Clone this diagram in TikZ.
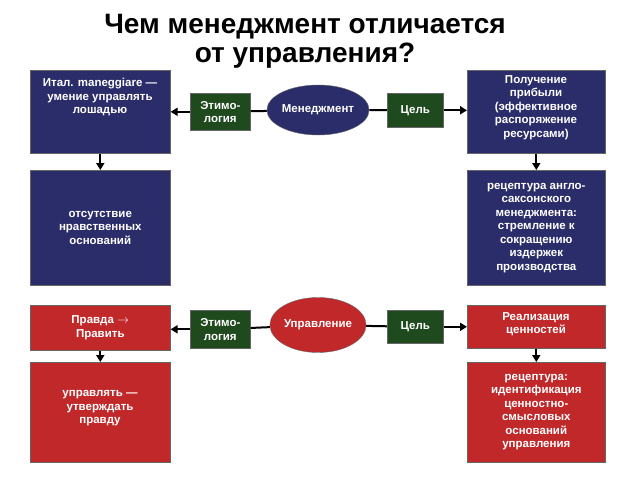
\documentclass[tikz,border=0pt]{standalone}
\usepackage{fontspec}
\setmainfont{Liberation Sans}
\usetikzlibrary{shapes.geometric,arrows.meta}
\definecolor{navy}{HTML}{2B2D6B}
\definecolor{dgreen}{HTML}{1F4A1E}
\definecolor{dred}{HTML}{C0282A}
\tikzset{
 box/.style={draw=black!60,line width=0.6pt,text=white,font=\bfseries\fontsize{11.5}{13.5}\selectfont,align=center,anchor=north west,inner sep=0pt},
 bluebox/.style={box,fill=navy},
 redbox/.style={box,fill=dred},
 gbox/.style={box,fill=dgreen},
 wtext/.style={anchor=north,text=white,font=\bfseries\fontsize{11.5}{13.5}\selectfont,align=center},
 ell/.style={ellipse,draw=black!60,text=white,font=\bfseries\fontsize{11.5}{13.5}\selectfont,inner sep=0pt},
 arr/.style={-{Triangle[length=7pt,width=8pt]},line width=2pt},
 ln/.style={line width=2pt}
}
\begin{document}
\begin{tikzpicture}[x=1pt,y=-1pt]
\useasboundingbox (0,0) rectangle (640,480);
\node[font=\bfseries\fontsize{28}{30}\selectfont] (t1) at (305,27) {Чем менеджмент отличается};
\node[font=\bfseries\fontsize{28}{30}\selectfont] (t2) at (305,56) {от управления?};
% top half
\node[bluebox,minimum width=140pt,minimum height=83pt] (b1) at (30,70) {};
\node[wtext] (b1t) at (100,75) {Итал. maneggiare —\\умение управлять\\лошадью};
\node[bluebox,minimum width=140pt,minimum height=115pt] (b2) at (30,170) {отсутствие\\нравственных\\оснований};
\node[bluebox,minimum width=138pt,minimum height=83pt] (b3) at (467,70) {};
\node[wtext] (b3t) at (536,72) {Получение\\прибыли\\(эффективное\\распоряжение\\ресурсами)};
\node[bluebox,minimum width=138pt,minimum height=115pt] (b4) at (467,170) {рецептура англо-\\саксонского\\менеджмента:\\стремление к\\сокращению\\издержек\\производства};
\node[gbox,minimum width=60pt,minimum height=37pt] (g1) at (190,93) {Этимо-\\логия};
\node[gbox,minimum width=56pt,minimum height=34pt] (g2) at (387,93) {Цель};
\node[ell,fill=navy,minimum width=92pt,minimum height=50pt] (e1) at (318,110) {Менеджмент};
% bottom half
\node[redbox,minimum width=140pt,minimum height=45pt] (r1) at (30,305) {Правда $\rightarrow$\\Править};
\node[redbox,minimum width=140pt,minimum height=100pt] (r2) at (30,362) {};
\node[wtext] (r2t) at (100,387) {управлять —\\утверждать\\правду};
\node[redbox,minimum width=138pt,minimum height=43pt] (r3) at (467,305) {};
\node[wtext] (r3t) at (536,309) {Реализация\\ценностей};
\node[redbox,minimum width=138pt,minimum height=100pt] (r4) at (467,362) {рецептура:\\идентификация\\ценностно-\\смысловых\\оснований\\управления};
\node[gbox,minimum width=60pt,minimum height=38pt] (g3) at (190,310) {Этимо-\\логия};
\node[gbox,minimum width=56pt,minimum height=33pt] (g4) at (387,310) {Цель};
\node[ell,fill=dred,minimum width=95pt,minimum height=55pt] (e2) at (318,325) {Управление};
% connectors
\draw[ln] (e1) -- (g1);
\draw[arr] (g1) -- (b1.east|-g1);
\draw[ln] (e1) -- (g2);
\draw[arr] (g2) -- (b3.west|-g2);
\draw[arr] (b1.south) -- (b2.north);
\draw[arr] (b3.south) -- (b4.north);
\draw[ln] (e2) -- (g3);
\draw[arr] (g3) -- (r1.east|-g3);
\draw[ln] (e2) -- (g4);
\draw[arr] (g4) -- (r3.west|-g4);
\draw[arr] (r1.south) -- (r2.north);
\draw[arr] (r3.south) -- (r4.north);
\end{tikzpicture}
\end{document}
